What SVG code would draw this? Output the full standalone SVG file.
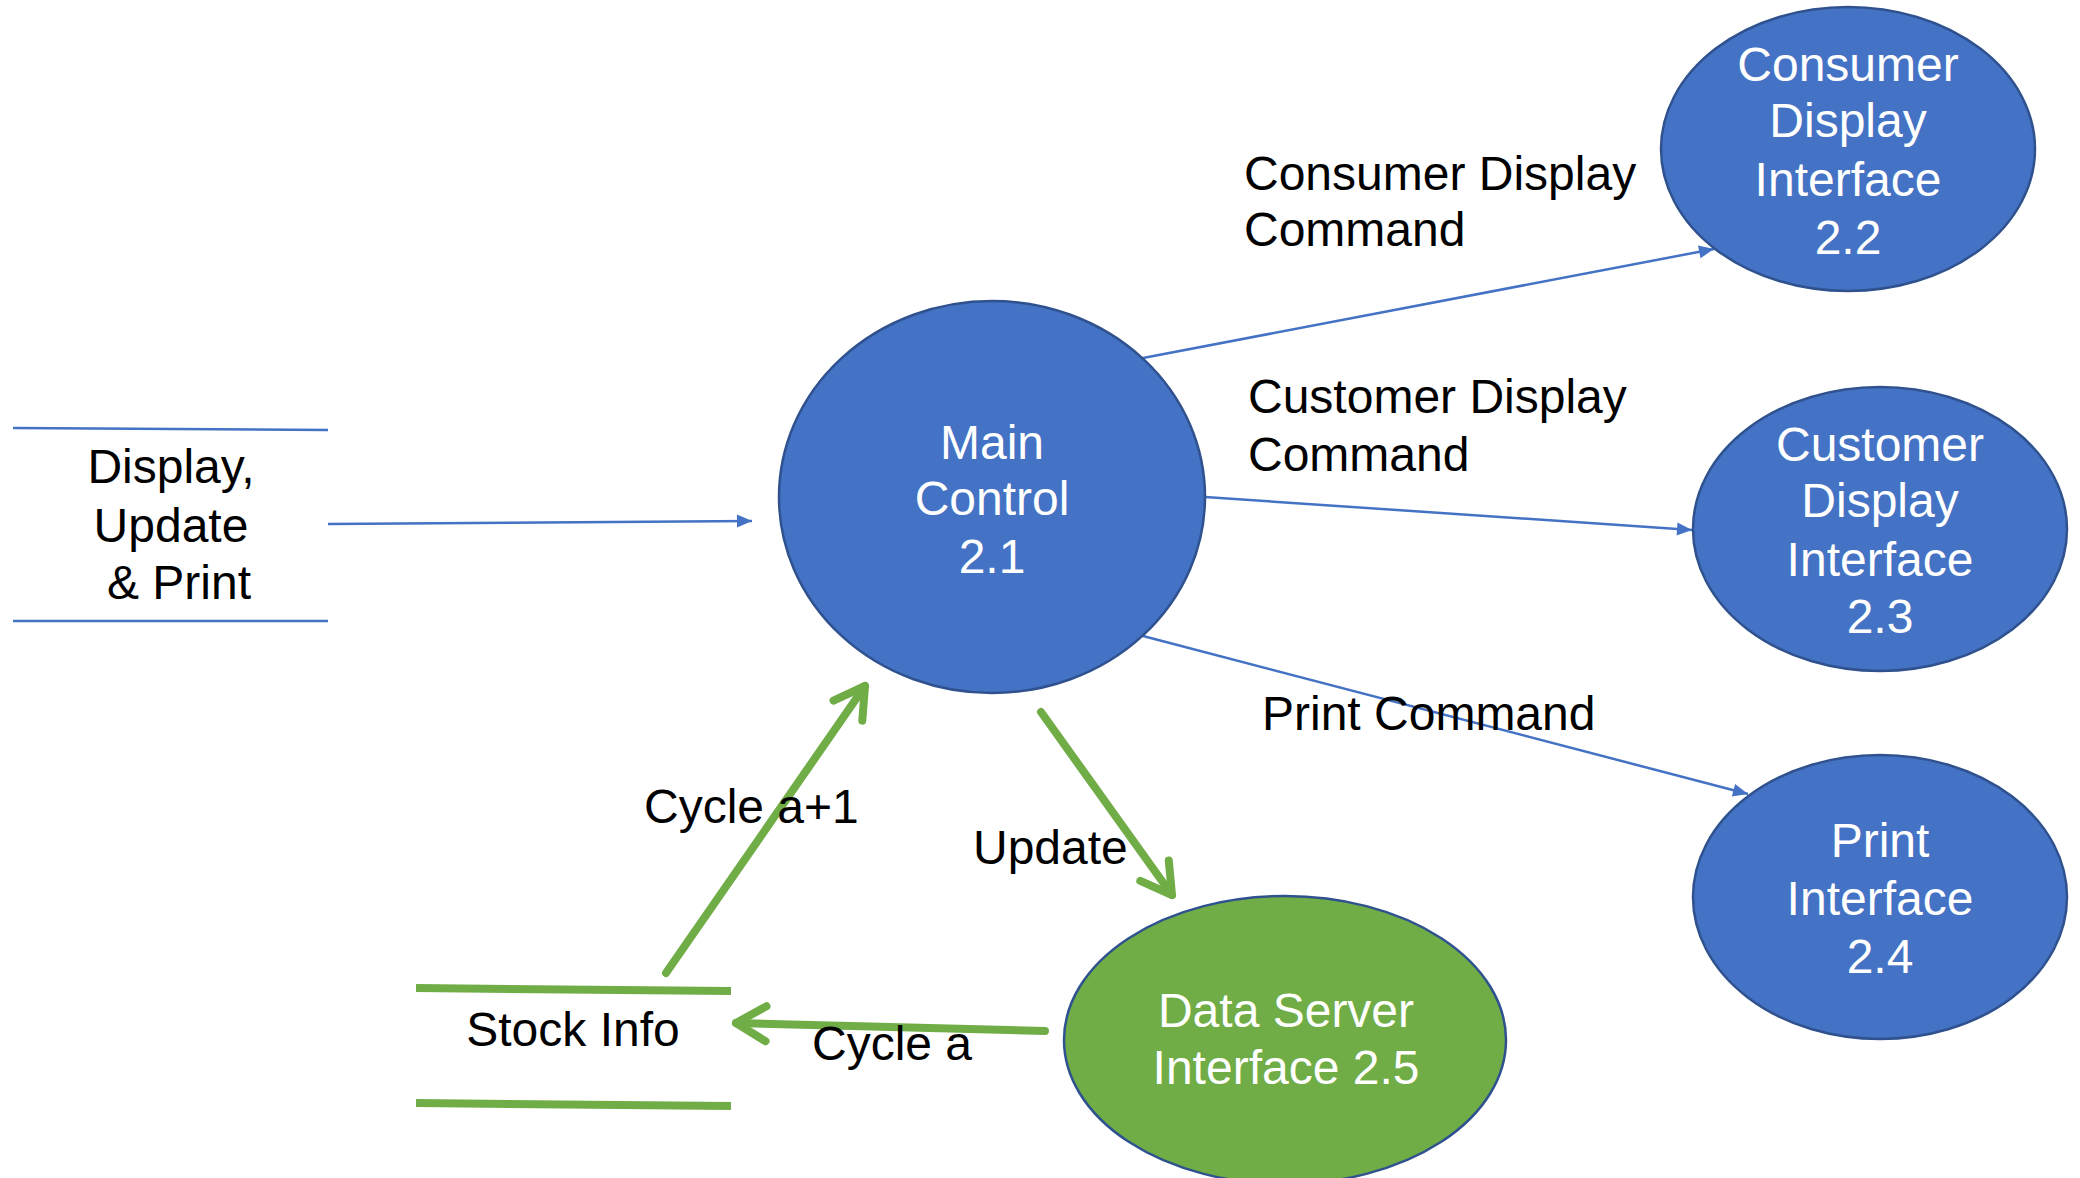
<svg xmlns="http://www.w3.org/2000/svg" width="2080" height="1178" viewBox="0 0 2080 1178">
<style>
.node{fill:#4472C4;stroke:#2F528F;stroke-width:2.5}
.gnode{fill:#70AD47;stroke:#2F528F;stroke-width:2.5}
.nt{font-family:"Liberation Sans",Arial,sans-serif;font-size:48px;fill:#FFFFFF;text-anchor:middle}
.lt{font-family:"Liberation Sans",Arial,sans-serif;font-size:48px;fill:#000000}
.bl{stroke:#4472C4;stroke-width:2.5;fill:none}
.gl{stroke:#70AD47;stroke-width:8;fill:none;stroke-linecap:butt}
.ga{stroke:#70AD47;stroke-width:8;fill:none;stroke-linecap:round;marker-end:url(#gArrow)}
</style>
<defs>
<marker id="bArrow" markerUnits="userSpaceOnUse" viewBox="-16 -8 17 16" refX="0" refY="0" markerWidth="17" markerHeight="16" orient="auto">
<path d="M0,0 L-15,-6.5 L-15,6.5 Z" fill="#4472C4"/>
</marker>
<marker id="gArrow" markerUnits="userSpaceOnUse" viewBox="-40 -25 50 50" refX="0" refY="0" markerWidth="50" markerHeight="50" orient="auto">
<path d="M-30,-17.5 L0,0 L-30,17.5" fill="none" stroke="#70AD47" stroke-width="8" stroke-linecap="round" stroke-linejoin="round"/>
</marker>
</defs>
<rect width="2080" height="1178" fill="#FFFFFF"/>

<g id="store-display">
<line class="bl" x1="13" y1="428" x2="328" y2="430"/>
<line class="bl" x1="13" y1="621" x2="328" y2="621"/>
<text class="lt" x="171" y="483" text-anchor="middle">Display,</text>
<text class="lt" x="171" y="542" text-anchor="middle">Update</text>
<text class="lt" x="179" y="599" text-anchor="middle">&amp; Print</text>
</g>

<g id="store-stock">
<line class="gl" x1="416" y1="988" x2="731" y2="991"/>
<line class="gl" x1="416" y1="1103" x2="731" y2="1106"/>
<text class="lt" x="573" y="1046" text-anchor="middle">Stock Info</text>
</g>

<g id="connectors">
<line class="bl" x1="328" y1="524" x2="752" y2="521" marker-end="url(#bArrow)"/>
<line class="bl" x1="1143" y1="358" x2="1714" y2="249" marker-end="url(#bArrow)"/>
<line class="bl" x1="1205" y1="497" x2="1692" y2="530" marker-end="url(#bArrow)"/>
<line class="bl" x1="1143" y1="636" x2="1748" y2="794" marker-end="url(#bArrow)"/>
<line class="ga" x1="666" y1="973" x2="865" y2="686"/>
<line class="ga" x1="1041" y1="712" x2="1172" y2="895"/>
<line class="ga" x1="1045" y1="1031" x2="736" y2="1023"/>
</g>

<g id="labels">
<text class="lt" x="1244" y="190">Consumer Display</text>
<text class="lt" x="1244" y="246">Command</text>
<text class="lt" x="1248" y="413">Customer Display</text>
<text class="lt" x="1248" y="471">Command</text>
<text class="lt" x="1262" y="730">Print Command</text>
<text class="lt" x="644" y="823">Cycle a+1</text>
<text class="lt" x="973" y="864">Update</text>
<text class="lt" x="812" y="1060">Cycle a</text>
</g>

<g id="main-control">
<ellipse class="node" cx="992" cy="497" rx="213" ry="196"/>
<text class="nt" x="992" y="459">Main</text>
<text class="nt" x="992" y="515">Control</text>
<text class="nt" x="992" y="573">2.1</text>
</g>

<g id="consumer-display">
<ellipse class="node" cx="1848" cy="149" rx="187" ry="142"/>
<text class="nt" x="1848" y="81">Consumer</text>
<text class="nt" x="1848" y="137">Display</text>
<text class="nt" x="1848" y="196">Interface</text>
<text class="nt" x="1848" y="254">2.2</text>
</g>

<g id="customer-display">
<ellipse class="node" cx="1880" cy="529" rx="187" ry="142"/>
<text class="nt" x="1880" y="461">Customer</text>
<text class="nt" x="1880" y="517">Display</text>
<text class="nt" x="1880" y="576">Interface</text>
<text class="nt" x="1880" y="633">2.3</text>
</g>

<g id="print-interface">
<ellipse class="node" cx="1880" cy="897" rx="187" ry="142"/>
<text class="nt" x="1880" y="857">Print</text>
<text class="nt" x="1880" y="915">Interface</text>
<text class="nt" x="1880" y="973">2.4</text>
</g>

<g id="data-server">
<ellipse class="gnode" cx="1285" cy="1040" rx="221" ry="144"/>
<text class="nt" x="1286" y="1027">Data Server</text>
<text class="nt" x="1286" y="1084">Interface 2.5</text>
</g>
</svg>
